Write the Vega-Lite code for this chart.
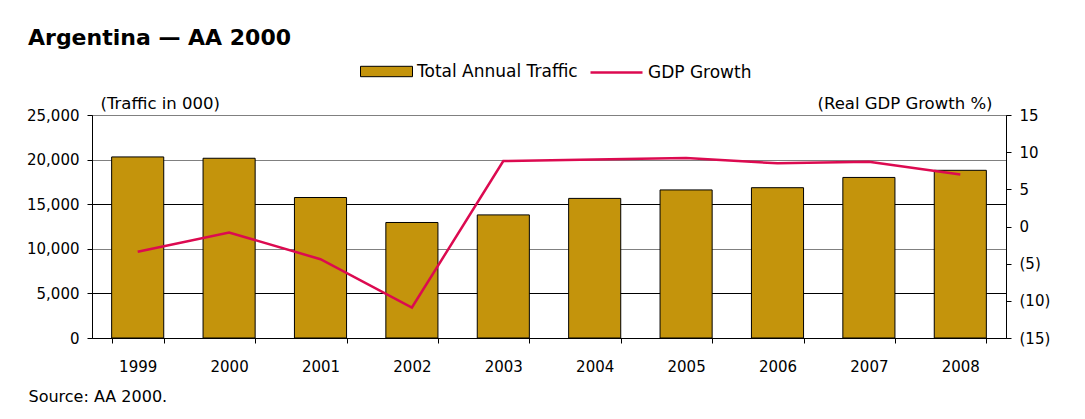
{
  "$schema": "https://vega.github.io/schema/vega-lite/v6.json",
  "width": 914,
  "height": 223,
  "autosize": {"type": "none"},
  "padding": {"left": 92, "top": 115, "right": 79, "bottom": 81},
  "background": "#ffffff",
  "title": {
    "text": "Argentina — AA 2000",
    "anchor": "start",
    "frame": "group",
    "font": "DejaVu Sans",
    "fontSize": 22,
    "fontWeight": "bold",
    "color": "#000000",
    "dx": -64,
    "dy": 25,
    "offset": 20
  },
  "config": {
    "font": "DejaVu Sans",
    "view": {"stroke": "#555555", "strokeWidth": 1},
    "axis": {
      "labelFont": "DejaVu Sans",
      "labelFontSize": 15,
      "labelColor": "#000000",
      "titleFont": "DejaVu Sans",
      "titleFontSize": 16.5,
      "titleFontWeight": "normal",
      "titleColor": "#000000",
      "domainColor": "#000000",
      "tickColor": "#000000",
      "tickSize": 5
    },
    "legend": {
      "labelFont": "DejaVu Sans",
      "labelFontSize": 17,
      "labelColor": "#000000",
      "labelLimit": 400
    }
  },
  "data": {
    "values": [
      {"year": "1999", "traffic": 20300, "gdp": -3.4},
      {"year": "2000", "traffic": 20150, "gdp": -0.8},
      {"year": "2001", "traffic": 15750, "gdp": -4.4},
      {"year": "2002", "traffic": 12950, "gdp": -10.9},
      {"year": "2003", "traffic": 13800, "gdp": 8.8},
      {"year": "2004", "traffic": 15650, "gdp": 9.0},
      {"year": "2005", "traffic": 16600, "gdp": 9.2},
      {"year": "2006", "traffic": 16850, "gdp": 8.5},
      {"year": "2007", "traffic": 18000, "gdp": 8.7},
      {"year": "2008", "traffic": 18800, "gdp": 7.0}
    ]
  },
  "encoding": {
    "x": {
      "field": "year",
      "type": "ordinal",
      "scale": {"paddingInner": 0.43, "paddingOuter": 0.215},
      "axis": {
        "labelAngle": 0,
        "tickBand": "extent",
        "labelPadding": 16,
        "title": "Source: AA 2000.",
        "titleFontSize": 16,
        "titleAnchor": "start",
        "titleAlign": "left",
        "titleX": -64,
        "titleY": 63,
        "titleBaseline": "alphabetic"
      }
    }
  },
  "layer": [
    {
      "mark": {"type": "bar", "stroke": "#000000", "strokeWidth": 1},
      "encoding": {
        "y": {
          "field": "traffic",
          "type": "quantitative",
          "scale": {"domain": [0, 25000], "nice": false},
          "axis": {
            "values": [0, 5000, 10000, 15000, 20000, 25000],
            "format": ",.0f",
            "labelPadding": 8,
            "grid": true,
            "gridColor": {"condition": {"test": "datum.value === 15000 || datum.value === 5000", "value": "#000000"}, "value": "#808080"},
            "gridOpacity": 1,
            "title": "(Traffic in 000)",
            "titleAngle": 0,
            "titleAlign": "left",
            "titleBaseline": "bottom",
            "titleX": 8,
            "titleY": -4
          }
        },
        "fill": {
          "datum": "Total Annual Traffic",
          "type": "nominal",
          "scale": {"domain": ["Total Annual Traffic"], "range": ["#C4940C"]},
          "legend": {
            "title": null,
            "orient": "none",
            "direction": "horizontal",
            "legendX": 268,
            "legendY": -70,
            "symbolType": "M-1,-0.2H1V0.2H-1Z",
            "symbolSize": 2704,
            "symbolStrokeColor": "#000000",
            "symbolStrokeWidth": 1,
            "symbolOpacity": 1,
            "labelOffset": 4,
            "labelLimit": 400
          }
        }
      }
    },
    {
      "mark": {"type": "line", "strokeWidth": 2.5},
      "encoding": {
        "y": {
          "field": "gdp",
          "type": "quantitative",
          "scale": {"domain": [-15, 15], "nice": false},
          "axis": {
            "orient": "right",
            "values": [-15, -10, -5, 0, 5, 10, 15],
            "labelExpr": "datum.value < 0 ? '(' + abs(datum.value) + ')' : '' + datum.value",
            "labelPadding": 8,
            "grid": false,
            "title": "(Real GDP Growth %)",
            "titleAngle": 0,
            "titleAlign": "right",
            "titleBaseline": "bottom",
            "titleX": -14,
            "titleY": -4
          }
        },
        "stroke": {
          "datum": "GDP Growth",
          "type": "nominal",
          "scale": {"domain": ["GDP Growth"], "range": ["#DC0A50"]},
          "legend": {
            "title": null,
            "orient": "none",
            "direction": "horizontal",
            "legendX": 497,
            "legendY": -70,
            "symbolType": "M-1,0H1",
            "symbolSize": 2704,
            "symbolStrokeWidth": 2.5,
            "symbolFillColor": "transparent",
            "symbolOpacity": 1,
            "labelOffset": 4,
            "labelLimit": 400
          }
        }
      }
    }
  ],
  "resolve": {"scale": {"y": "independent"}}
}
